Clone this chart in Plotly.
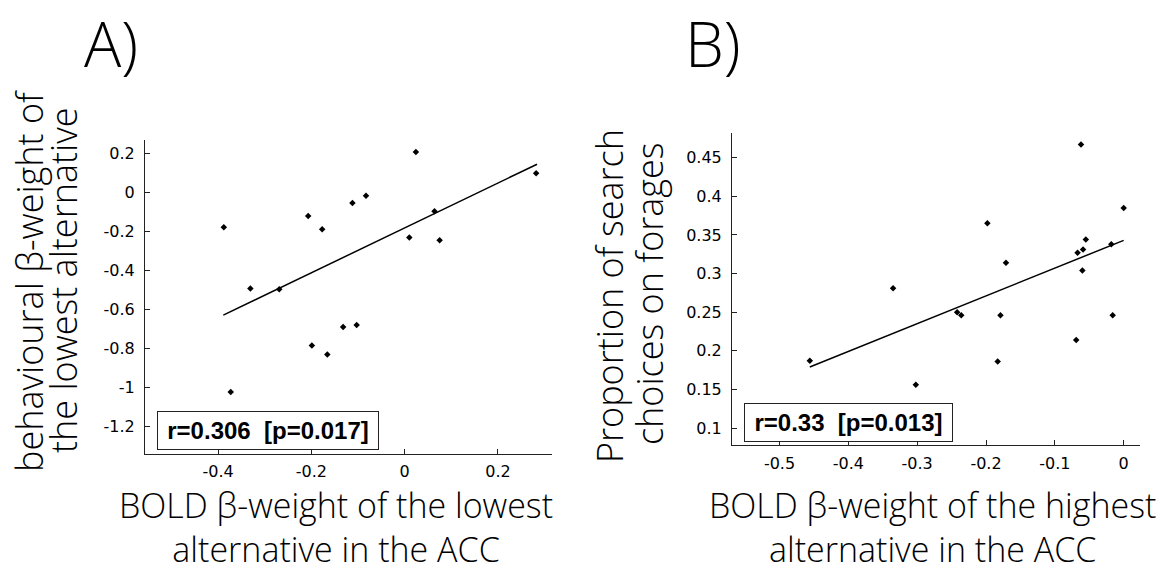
import plotly.graph_objects as go

# ---------------- data ----------------
a_x = [-0.388, -0.373, -0.331, -0.269, -0.207, -0.199, -0.177, -0.166, -0.132,
       -0.112, -0.103, -0.083, 0.010, 0.024, 0.064, 0.075, 0.282]
a_y = [-0.179, -1.023, -0.492, -0.496, -0.121, -0.784, -0.189, -0.830, -0.690,
       -0.054, -0.680, -0.018, -0.231, 0.207, -0.097, -0.245, 0.098]
a_fit_x = [-0.389, 0.284]
a_fit_y = [-0.629, 0.144]
a_xticks = [-0.4, -0.2, 0, 0.2]
a_xticklabels = ["-0.4", "-0.2", "0", "0.2"]
a_yticks = [0.2, 0, -0.2, -0.4, -0.6, -0.8, -1, -1.2]
a_yticklabels = ["0.2", "0", "-0.2", "-0.4", "-0.6", "-0.8", "-1", "-1.2"]
a_stat = "r=0.306  [p=0.017]"

b_x = [-0.456, -0.335, -0.302, -0.242, -0.236, -0.198, -0.183, -0.179, -0.171,
       -0.069, -0.067, -0.062, -0.060, -0.059, -0.055, -0.018, -0.016, 0.000]
b_y = [0.187, 0.281, 0.156, 0.250, 0.246, 0.365, 0.186, 0.246, 0.314,
       0.214, 0.327, 0.467, 0.304, 0.331, 0.344, 0.338, 0.246, 0.385]
b_fit_x = [-0.456, 0.0]
b_fit_y = [0.179, 0.343]
b_xticks = [-0.5, -0.4, -0.3, -0.2, -0.1, 0]
b_xticklabels = ["-0.5", "-0.4", "-0.3", "-0.2", "-0.1", "0"]
b_yticks = [0.1, 0.15, 0.2, 0.25, 0.3, 0.35, 0.4, 0.45]
b_yticklabels = ["0.1", "0.15", "0.2", "0.25", "0.3", "0.35", "0.4", "0.45"]
b_stat = "r=0.33  [p=0.013]"

W, H = 1176, 574
def px(x):
    return x / W
def py(y):
    return 1 - y / H

TITLE_FONT = dict(family="Open Sans", size=36, color="black", weight=300)
XTITLE_FONT = dict(family="Open Sans", size=34, color="black", weight=300)
TICK_FONT = dict(family="DejaVu Sans", size=16, color="black")

fig = go.Figure()

fig.add_trace(go.Scatter(x=a_x, y=a_y, mode="markers", xaxis="x", yaxis="y",
                         marker=dict(symbol="diamond", size=5, color="black"),
                         showlegend=False, hoverinfo="skip"))
fig.add_trace(go.Scatter(x=a_fit_x, y=a_fit_y, mode="lines", xaxis="x", yaxis="y",
                         line=dict(color="black", width=1.5),
                         showlegend=False, hoverinfo="skip"))
fig.add_trace(go.Scatter(x=b_x, y=b_y, mode="markers", xaxis="x2", yaxis="y2",
                         marker=dict(symbol="diamond", size=5, color="black"),
                         showlegend=False, hoverinfo="skip"))
fig.add_trace(go.Scatter(x=b_fit_x, y=b_fit_y, mode="lines", xaxis="x2", yaxis="y2",
                         line=dict(color="black", width=1.5),
                         showlegend=False, hoverinfo="skip"))

axis_common = dict(showline=True, linecolor="#222", linewidth=1, ticks="inside",
                   ticklen=5, tickcolor="#222", tickwidth=1, showgrid=False,
                   zeroline=False, tickfont=TICK_FONT, mirror=False)

fig.update_layout(
    width=W, height=H,
    margin=dict(l=0, r=0, t=0, b=0),
    paper_bgcolor="white", plot_bgcolor="white",
    xaxis=dict(domain=[px(145), px(552)], range=[-0.557, 0.316],
               tickvals=a_xticks, ticktext=a_xticklabels, anchor="y",
               ticklabelstandoff=3, **axis_common),
    yaxis=dict(domain=[py(454), py(140)], range=[-1.34, 0.268],
               tickvals=a_yticks, ticktext=a_yticklabels, anchor="x",
               ticklabelstandoff=6, **axis_common),
    xaxis2=dict(domain=[px(732), px(1140)], range=[-0.569, 0.0237],
                tickvals=b_xticks, ticktext=b_xticklabels, anchor="y2",
                ticklabelstandoff=4, **axis_common),
    yaxis2=dict(domain=[py(445), py(133)], range=[0.078, 0.482],
                tickvals=b_yticks, ticktext=b_yticklabels, anchor="x2",
                ticklabelstandoff=6, **axis_common),
)

ann = []
def text(x, y, s, font, angle=0, yanchor="middle"):
    ann.append(dict(x=px(x), y=py(y), xref="paper", yref="paper", text=s,
                    showarrow=False, xanchor="center", yanchor=yanchor,
                    textangle=angle, font=font))

big = dict(family="Open Sans", size=62, color="black", weight=300)
text(111, 42.5, "A)", big)
text(713, 43, "B)", big)

text(336, 573.5, "BOLD β-weight of the lowest<br>alternative in the ACC",
     XTITLE_FONT, yanchor="bottom")
text(932, 573.5, "BOLD β-weight of the highest<br>alternative in the ACC",
     XTITLE_FONT, yanchor="bottom")

text(29, 281, "behavioural β-weight of", TITLE_FONT, -90)
text(63, 281, "the lowest alternative", TITLE_FONT, -90)
text(609, 296, "Proportion of search", TITLE_FONT, -90)
text(649, 294, "choices on forages", TITLE_FONT, -90)

stat_font = dict(family="Liberation Sans", size=24, color="black", weight="bold")
ann.append(dict(x=px(268), y=py(430.3), xref="paper", yref="paper", text=a_stat,
                showarrow=False, xanchor="center", yanchor="middle",
                font=stat_font, bordercolor="#222", borderwidth=1, borderpad=0,
                width=220, height=37, bgcolor="white"))
ann.append(dict(x=px(848), y=py(422), xref="paper", yref="paper", text=b_stat,
                showarrow=False, xanchor="center", yanchor="middle",
                font=stat_font, bordercolor="#222", borderwidth=1, borderpad=0,
                width=207, height=37, bgcolor="white"))

fig.update_layout(annotations=ann)
fig.write_html("out.html")
